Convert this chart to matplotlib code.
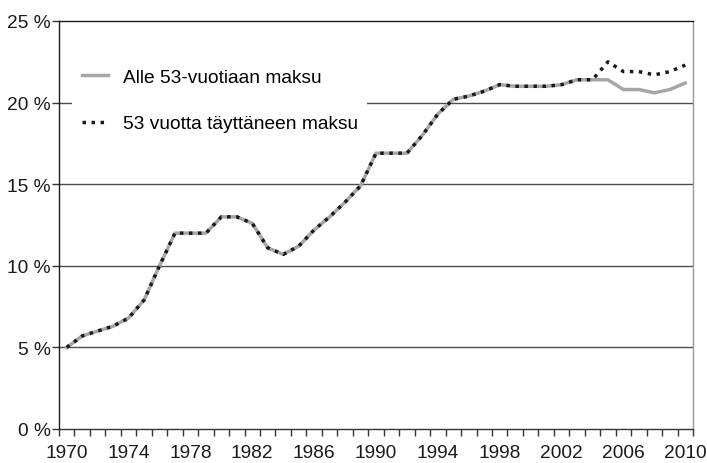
import numpy as np
import matplotlib
matplotlib.use('Agg')
import matplotlib.pyplot as plt

plt.rcParams['font.family'] = ['Liberation Sans', 'DejaVu Sans']

years = list(range(1970, 2011))
# Alle 53-vuotiaan maksu (%)
under53 = [5.0, 5.7, 6.0, 6.3, 6.8, 7.9, 10.0, 12.0, 12.0, 12.0,
           13.0, 13.0, 12.6, 11.1, 10.7, 11.2, 12.2, 13.0, 13.9, 14.9,
           16.9, 16.9, 16.9, 18.0, 19.3, 20.2, 20.4, 20.7, 21.1, 21.0,
           21.0, 21.0, 21.1, 21.4, 21.4, 21.4, 20.8, 20.8, 20.6, 20.8,
           21.2]
# 53 vuotta täyttäneen maksu (%)
over53 = under53[:35] + [22.5, 21.9, 21.9, 21.7, 21.9, 22.3]

yticks = [0, 5, 10, 15, 20, 25]
xlabel_years = list(range(1970, 2011, 4))

GRAY = '#a6a6a6'
GRID = '#4d4d4d'
FS = 13.8

fig = plt.figure(figsize=(7.07, 4.64), dpi=100)
ax = fig.add_axes([59 / 707, 1 - 430 / 464, (693 - 59) / 707, (430 - 22) / 464])

for v in yticks[1:-1]:
    ax.axhline(v, color=GRID, linewidth=1.0, zorder=1)

ax.plot(years, under53, color=GRAY, linewidth=2.5, solid_joinstyle='round',
        label='Alle 53-vuotiaan maksu', zorder=3)
ax.plot(years, over53, color='#1a1a1a', linewidth=2.5,
        linestyle=(0, (1, 1.6)), dash_capstyle='butt',
        label='53 vuotta täyttäneen maksu', zorder=4)

ax.set_xlim(1969.5, 2010.5)
ax.set_ylim(0, 25)
ax.set_yticks(yticks)
ax.set_yticklabels([f'{v} %' for v in yticks])

ax.set_xticks(np.arange(1969.5, 2011, 1.0))
ax.set_xticklabels([])
ax.set_xticks(xlabel_years, minor=True)
ax.set_xticklabels([str(y) for y in xlabel_years], minor=True)
ax.tick_params(axis='x', which='major', direction='out', length=5,
               width=1, color='#333333')
ax.tick_params(axis='x', which='minor', length=0, pad=11, labelsize=FS,
               labelcolor='#1a1a1a')
ax.tick_params(axis='y', direction='out', length=5, width=1,
               color='#333333', labelsize=FS, labelcolor='#1a1a1a', pad=1)

ax.spines['left'].set_color('#1a1a1a')
ax.spines['top'].set_color('#1a1a1a')
ax.spines['bottom'].set_color('#333333')
ax.spines['right'].set_color('#999999')
for s in ax.spines.values():
    s.set_linewidth(1.0)

leg = ax.legend(loc='upper left', bbox_to_anchor=(0.006, 0.93),
                frameon=True, fontsize=FS, handlelength=1.37,
                handletextpad=0.75, labelspacing=1.5, borderpad=0.5,
                fancybox=False)
leg.get_frame().set_facecolor('white')
leg.get_frame().set_edgecolor('none')
leg.get_frame().set_alpha(1.0)
leg.set_zorder(5)

fig.savefig('out.png', dpi=100)
